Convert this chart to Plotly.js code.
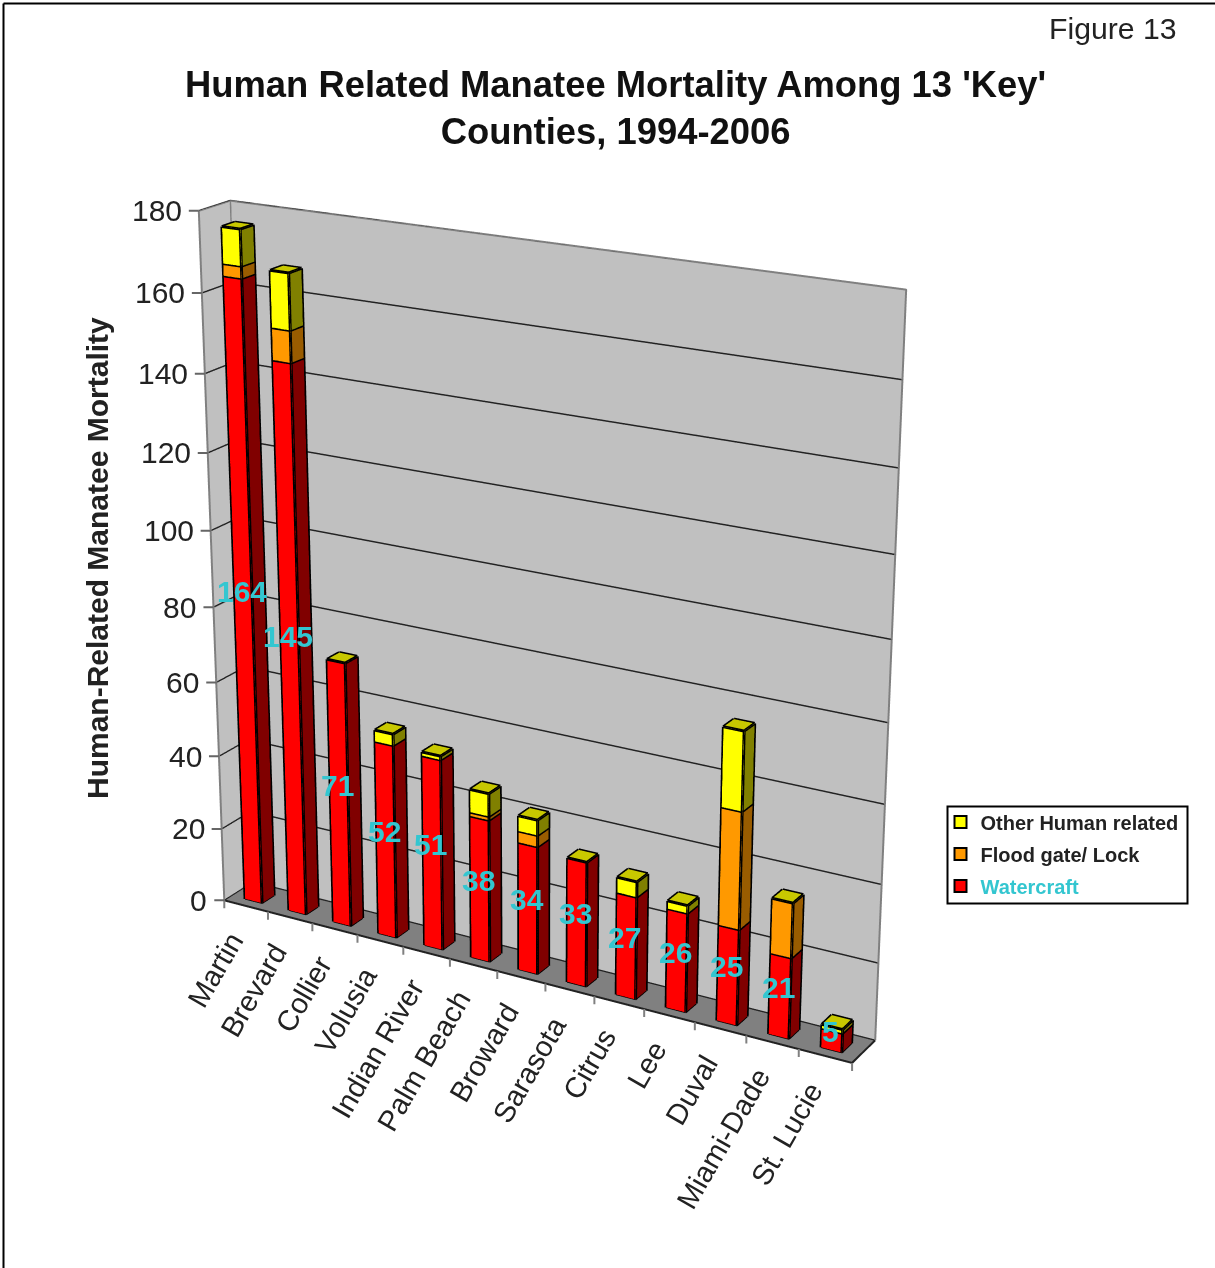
<!DOCTYPE html>
<html>
<head>
<meta charset="utf-8">
<script src="https://cdn.plot.ly/plotly-3.0.1.min.js"></script>
<style>
html,body{margin:0;padding:0;width:1215px;height:1268px;overflow:hidden;background:#fff}
#chart{position:absolute}
</style>
</head>
<body>
<div id="chart"></div>
<script>
var categories=["Martin","Brevard","Collier","Volusia","Indian River","Palm Beach","Broward","Sarasota","Citrus","Lee","Duval","Miami-Dade","St. Lucie"];
var watercraft=[164,145,71,52,51,38,34,33,27,26,25,21,5];
var floodGate=[3,8,0,0,0,1,3,0,0,0,30,14,0];
var otherHuman=[9,14,0,3,1,6,4,0,4,2,20,0,1];
var valueTicks=[0,20,40,60,80,100,120,140,160,180];

var CW=2613,CH=2613,LEFT=534-CW/2,TOP=622-CH/2;
var el=document.getElementById('chart');
el.style.left=LEFT+'px';el.style.top=TOP+'px';el.style.width=CW+'px';el.style.height=CH+'px';
function px(x){return (x-LEFT)/CW}
function py(y){return 1-(y-TOP)/CH}

var BAR_HW=0.195,Y0=0.26,Y1=0.68,NX=categories.length,ZMAX=180;
var series=[
 {name:"Watercraft",vals:watercraft,front:"#ff0000",side:"#800000",top:"#c8c800",isTop:false},
 {name:"Flood gate/ Lock",vals:floodGate,front:"#ff9900",side:"#995c00",top:"#c8c800",isTop:false},
 {name:"Other Human related",vals:otherHuman,front:"#ffff00",side:"#808000",top:"#c8c800",isTop:true}
];
var traces=[];
var base=categories.map(function(){return 0});
var ex=[],ey=[],ez=[];
function edge(a,b){ex.push(a[0],b[0],null);ey.push(a[1],b[1],null);ez.push(a[2],b[2],null);}
series.forEach(function(s){
  var X=[],Y=[],Z=[],I=[],J=[],K=[],FC=[];
  s.vals.forEach(function(v,idx){
    if(!v&&!s.isTop)return;
    var c=idx+0.5,x0=c-BAR_HW,x1=c+BAR_HW,z0=base[idx],z1=z0+v,n=X.length;
    var P=[[x0,Y0,z0],[x1,Y0,z0],[x1,Y1,z0],[x0,Y1,z0],[x0,Y0,z1],[x1,Y0,z1],[x1,Y1,z1],[x0,Y1,z1]];
    P.forEach(function(p){X.push(p[0]);Y.push(p[1]);Z.push(p[2])});
    var faces=[[0,1,5,4,s.front],[1,2,6,5,s.side]];
    if(s.isTop)faces.push([4,5,6,7,s.top]);
    faces.forEach(function(f){
      I.push(n+f[0],n+f[0]);J.push(n+f[1],n+f[2]);K.push(n+f[2],n+f[3]);FC.push(f[4],f[4]);
    });
    [[0,1],[1,2],[4,5],[5,6],[6,7],[7,4],[0,4],[1,5],[2,6]].forEach(function(e){edge(P[e[0]],P[e[1]])});
    base[idx]=z1;
  });
  traces.push({type:'mesh3d',name:s.name,x:X,y:Y,z:Z,i:I,j:J,k:K,facecolor:FC,flatshading:true,showscale:false,
    lighting:{ambient:1,diffuse:0,specular:0,roughness:1,fresnel:0},hoverinfo:'skip'});
});
traces.push({type:'scatter3d',mode:'lines',x:ex,y:ey,z:ez,line:{color:'#000',width:6},showlegend:false,hoverinfo:'skip'});
// wall outline
var wx=[0,0,NX,NX,null,0,0,null,0,0],wy=[0,1,1,1,null,0,0,null,1,1],wz=[ZMAX,ZMAX,ZMAX,0,null,0,ZMAX,null,0,ZMAX];
traces.push({type:'scatter3d',mode:'lines',x:wx,y:wy,z:wz,line:{color:'#808080',width:4},showlegend:false,hoverinfo:'skip'});
traces.push({type:'scatter3d',mode:'lines',x:[0,NX,NX],y:[0,0,1],z:[0,0,0],line:{color:'#222',width:4},showlegend:false,hoverinfo:'skip'});

// legend entries
[2,1,0].forEach(function(i){
  var s=series[i];
  traces.push({type:'scatter',mode:'markers',x:[null],y:[null],legendgroup:s.name,
    name:i===0?'<span style="color:#33c6d0">'+s.name+'</span>':s.name,
    marker:{symbol:'square',size:12,color:s.front,line:{color:'#000',width:2}},xaxis:'x',yaxis:'y',hoverinfo:'skip'});
});

var sceneAnn=[];
var txt='Liberation Sans, Arial';
categories.forEach(function(c,i){
  sceneAnn.push({x:i+0.5,y:0,z:0,text:c,showarrow:false,textangle:-60,xanchor:'right',yanchor:'top',yshift:-18,xshift:6,
    font:{family:txt,size:29,color:'#222'}});
  sceneAnn.push({x:i+0.5,y:0.2,z:watercraft[i]/2,text:'<b>'+watercraft[i]+'</b>',showarrow:false,xanchor:'center',yanchor:'middle',yshift:10,
    font:{family:txt,size:30,color:'#33c6d0'}});
});
for(var t=0;t<=NX;t++){
  sceneAnn.push({x:t,y:0,z:0,showarrow:true,arrowhead:0,arrowwidth:2,arrowcolor:'#808080',ax:0,ay:18,standoff:0});
}
valueTicks.forEach(function(t){
  sceneAnn.push({x:0,y:0,z:t,text:String(t),showarrow:false,xanchor:'right',yanchor:'middle',xshift:-15,
    font:{family:txt,size:30,color:'#222'}});
  sceneAnn.push({x:0,y:0,z:t,showarrow:true,arrowhead:0,arrowwidth:2,arrowcolor:'#666',ax:-13,ay:0,standoff:0});
});

var layout={
  width:CW,height:CH,margin:{l:0,r:0,t:0,b:0},paper_bgcolor:'#fff',plot_bgcolor:'rgba(0,0,0,0)',
  xaxis:{visible:false},yaxis:{visible:false},
  showlegend:true,
  legend:{x:px(940),y:py(802),xanchor:'left',yanchor:'top',bgcolor:'rgba(0,0,0,0)',borderwidth:0,
    traceorder:'grouped',tracegroupgap:3,font:{family:txt,size:20,weight:700,color:'#222'},itemclick:false},
  scene:{
    domain:{x:[0,1],y:[0,1]},
    aspectmode:'manual',aspectratio:{x:0.998,y:0.073,z:1.017},
    camera:{eye:{x:1.974,y:-3.419,z:1.436},center:{x:0,y:0,z:0},up:{x:0,y:0,z:1},projection:{type:'perspective'}},
    xaxis:{range:[0,NX],showticklabels:false,ticks:'',
      showgrid:false,zeroline:false,showbackground:true,backgroundcolor:'#c0c0c0',title:{text:''},showspikes:false},
    yaxis:{range:[0,1],showticklabels:false,ticks:'',showgrid:false,zeroline:false,showbackground:true,backgroundcolor:'#c0c0c0',title:{text:''},showspikes:false},
    zaxis:{range:[0,ZMAX],tickvals:valueTicks,showticklabels:false,ticks:'',
      showgrid:true,gridcolor:'#222',gridwidth:3,zeroline:false,showbackground:true,backgroundcolor:'#808080',title:{text:''},showspikes:false},
    annotations:sceneAnn
  },
  annotations:[
    {xref:'paper',yref:'paper',x:px(615),y:py(107.5),text:"<b>Human Related Manatee Mortality Among 13 'Key'<br>Counties, 1994-2006</b>",showarrow:false,align:'center',
      font:{family:txt,size:36.4,color:'#111'},xanchor:'center',yanchor:'middle'},
    {xref:'paper',yref:'paper',x:px(1178),y:py(28),text:"Figure 13",showarrow:false,xanchor:'right',yanchor:'middle',
      font:{family:txt,size:30.2,color:'#222'}},
    {xref:'paper',yref:'paper',x:px(97),y:py(558),text:"<b>Human-Related Manatee Mortality</b>",showarrow:false,textangle:-90,xanchor:'center',yanchor:'middle',
      font:{family:txt,size:30,color:'#222'}}
  ],
  shapes:[
    {type:'line',xref:'paper',yref:'paper',x0:px(3),x1:px(1215),y0:py(3),y1:py(3),line:{color:'#000',width:2}},
    {type:'line',xref:'paper',yref:'paper',x0:px(3),x1:px(3),y0:py(3),y1:py(1268),line:{color:'#000',width:2}},
    {type:'rect',xref:'paper',yref:'paper',x0:px(947),x1:px(1187),y0:py(806),y1:py(903),line:{color:'#000',width:2},fillcolor:'#fff',layer:'below'}
  ]
};
Plotly.newPlot(el,traces,layout,{displayModeBar:false});
</script>
</body>
</html>
